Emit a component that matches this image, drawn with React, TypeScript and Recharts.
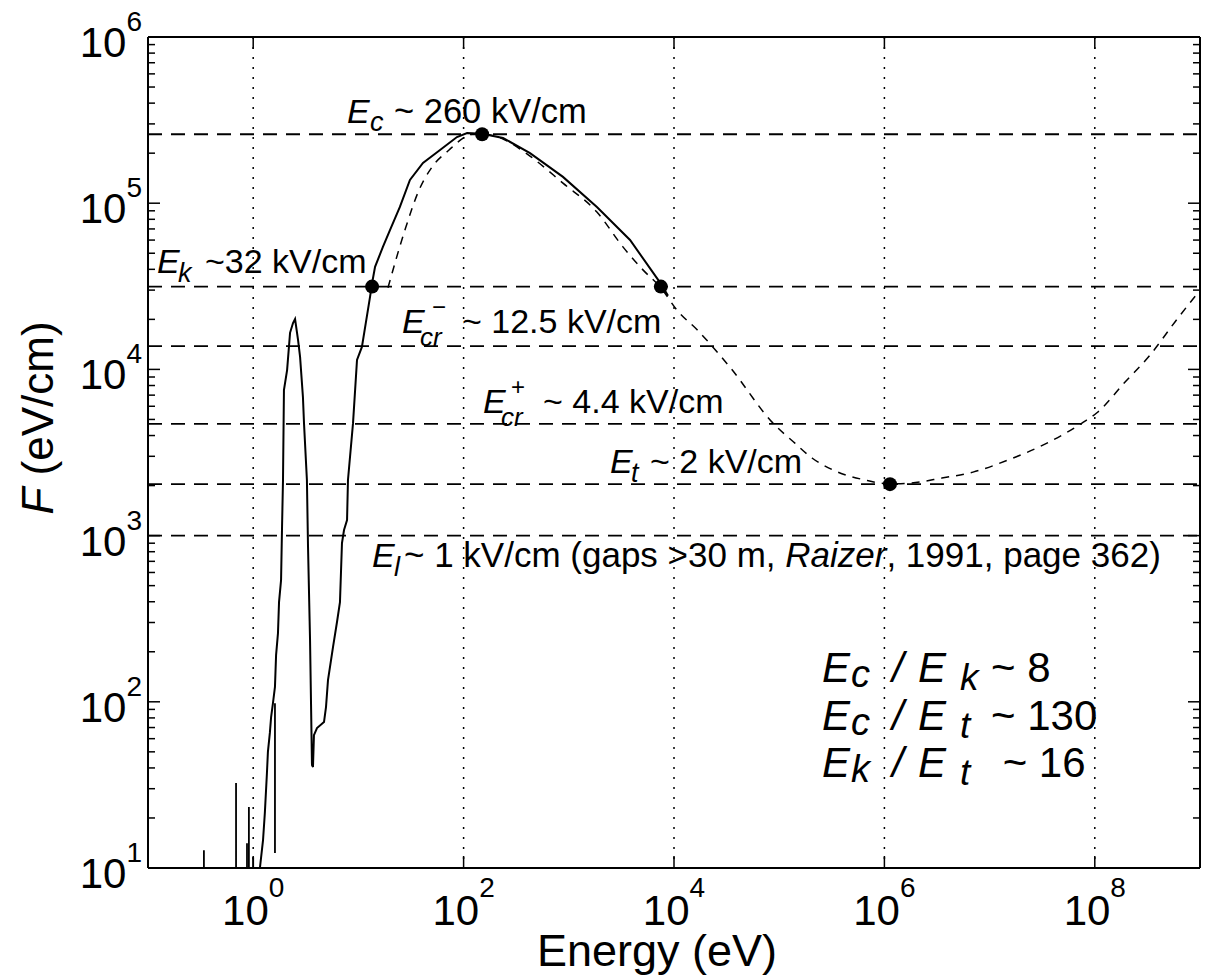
import {
  CartesianGrid,
  ComposedChart,
  Line,
  ReferenceLine,
  Scatter,
  XAxis,
  YAxis,
} from 'recharts'

const FONT = '"Liberation Sans", Arial, Helvetica, sans-serif'
const INK = '#000'

// solid curve: [energy eV, F eV/cm]
const solidCurve: [number, number][] = [
  [1.13, 8.5], [1.16, 10.1], [1.24, 14.7], [1.29, 21.4], [1.35, 37], [1.38, 50],
  [1.44, 65], [1.48, 81], [1.54, 98], [1.61, 123], [1.65, 191], [1.72, 259],
  [1.76, 398], [1.84, 540], [1.88, 1130], [1.92, 2160], [1.96, 7520], [2.1, 9910],
  [2.24, 16600], [2.39, 19000], [2.5, 20100], [2.67, 15000], [2.79, 11900],
  [2.97, 6820], [3.04, 4750], [3.24, 2160], [3.32, 853], [3.47, 235], [3.62, 41.7],
  [3.7, 40.5], [3.78, 63], [4.04, 69.5], [4.71, 75.5], [4.92, 93], [5.14, 135],
  [5.74, 214], [6.26, 302], [6.68, 398], [6.98, 902], [7.3, 1080], [7.8, 1240],
  [7.96, 2160], [8.89, 4750], [9.7, 11400], [10.8, 13650], [12.9, 27300],
  [13.5, 33100], [14.4, 41400], [17.1, 54600], [20, 69000], [24.8, 95000],
  [30.9, 138000], [41.1, 174600], [59.7, 209000], [86.5, 250000], [108, 264000],
  [150, 262000], [237, 247000], [428, 200000], [880, 144000], [1850, 94800],
  [3820, 60100], [7520, 32700], [8770, 27700],
]

// dashed curve
const dashedCurve: [number, number][] = [
  [19.1, 31000], [27.7, 69000], [37.7, 120000], [50.1, 165000], [72.7, 209000],
  [103, 250000], [128, 262000], [175, 258000], [237, 243000], [428, 192000],
  [880, 132000], [1850, 88500], [3270, 54600], [5070, 39700], [7520, 30900],
  [10700, 22700], [16600, 17300], [34100, 10300], [87300, 4750], [141000, 3600],
  [205000, 2930], [325000, 2480], [655000, 2160], [1.13e6, 2045], [1.79e6, 2070],
  [3.52e6, 2220], [6.95e6, 2410], [1.5e7, 2850], [3.51e7, 3600], [7.55e7, 4750],
  [1.07e8, 5540], [1.94e8, 8400], [3.35e8, 12200], [5.78e8, 19300], [1e9, 30000],
]

// short vertical spikes at low energy
const spikeSegments: [number, number][][] = [
  [[0.34, 8], [0.34, 12.8]],
  [[0.687, 8], [0.687, 32.5]],
  [[0.873, 8], [0.873, 14.1]],
  [[0.91, 8], [0.91, 23.3]],
  [[1.0, 8], [1.0, 11.6]],
  [[1.61, 12.3], [1.61, 98]],
]

const fieldMarkers: [number, number][] = [
  [13.5, 31500], [150, 260000], [7500, 31500], [1.13e6, 2040],
]

const fieldLevels = [260000, 31500, 13800, 4700, 2040, 1000]

const xMajorTicks = [1, 1e2, 1e4, 1e6, 1e8]
const yMajorTicks = [1e1, 1e2, 1e3, 1e4, 1e5, 1e6]
const minorSteps = [2, 3, 4, 5, 6, 7, 8, 9]

const ratioRows = [
  { a: 'c', b: 'k', val: '~ 8' },
  { a: 'c', b: 't', val: '~ 130' },
  { a: 'k', b: 't', val: ' ~ 16' },
]

const yAllTicks = yMajorTicks.flatMap((d, i) =>
  i === yMajorTicks.length - 1 ? [d] : [d, ...minorSteps.map((k) => k * d)],
)

const toPts = (arr: [number, number][]) => arr.map(([e, f]) => ({ e, f }))
const solidData = toPts(solidCurve)
const dashedData = toPts(dashedCurve)
const spikeData = spikeSegments.flatMap((seg) => [
  ...toPts(seg),
  { e: seg[0][0], f: null as number | null },
])
const markerData = toPts(fieldMarkers)

const exp10 = (v: number) => String(Math.round(Math.log10(v)))

function LeftTick(props: any) {
  const { x, y, payload } = props
  const major = yMajorTicks.includes(payload.value)
  return (
    <g>
      <line x1={x} x2={x + (major ? 12 : 7)} y1={y} y2={y} stroke={INK} strokeWidth={1.5} />
      {major && (
        <text x={x - 6} y={y + 20} textAnchor="end" fontFamily={FONT} fontSize={42} fill={INK}>
          10
          <tspan dy={-26} fontSize={28}>
            {exp10(payload.value)}
          </tspan>
        </text>
      )}
    </g>
  )
}

function RightTick(props: any) {
  const { x, y, payload } = props
  const major = yMajorTicks.includes(payload.value)
  return <line x1={x} x2={x - (major ? 12 : 7)} y1={y} y2={y} stroke={INK} strokeWidth={1.5} />
}

function BottomTick(props: any) {
  const { x, y, payload } = props
  return (
    <g>
      <line x1={x} x2={x} y1={y} y2={y - 12} stroke={INK} strokeWidth={1.5} />
      <text x={x} y={y + 57} textAnchor="middle" fontFamily={FONT} fontSize={42} fill={INK}>
        10
        <tspan dy={-28} fontSize={28}>
          {exp10(payload.value)}
        </tspan>
      </text>
    </g>
  )
}

function TopTick(props: any) {
  const { x, y } = props
  return <line x1={x} x2={x} y1={y} y2={y + 12} stroke={INK} strokeWidth={1.5} />
}

function T({ x, y, size = 34, italic = false, children }: any) {
  return (
    <text x={x} y={y} fontSize={size} fontStyle={italic ? 'italic' : 'normal'} fontFamily={FONT} fill={INK}>
      {children}
    </text>
  )
}

/** Annotation layer: field labels and ratios. */
function Annotations() {
  return (
    <svg width={1207} height={977} style={{ position: 'absolute', left: 0, top: 0, pointerEvents: 'none' }}>
      <T x={347} y={123} italic>E</T>
      <T x={370} y={131} size={27} italic>c</T>
      <T x={394} y={123} size={34.5}>~ 260 kV/cm</T>

      <T x={157} y={273} italic>E</T>
      <T x={178} y={282} size={27} italic>k</T>
      <T x={205} y={273}>~32 kV/cm</T>

      <T x={402} y={333} italic>E</T>
      <T x={420} y={346} size={26} italic>cr</T>
      <T x={432} y={315} size={24}>−</T>
      <T x={462} y={333}>~ 12.5 kV/cm</T>

      <T x={483} y={413} italic>E</T>
      <T x={501} y={426} size={26} italic>cr</T>
      <T x={511} y={395} size={24}>+</T>
      <T x={543} y={413}>~ 4.4 kV/cm</T>

      <T x={610} y={473} italic>E</T>
      <T x={631} y={482} size={27} italic>t</T>
      <T x={650} y={473}>~ 2 kV/cm</T>

      <T x={372} y={567} italic>E</T>
      <T x={394} y={576} size={27} italic>l</T>
      <text x={404} y={567} fontSize={35} fontFamily={FONT} fill={INK}>
        ~ 1 kV/cm (gaps &gt;30 m, <tspan fontStyle="italic">Raizer</tspan>, 1991, page 362)
      </text>

      {ratioRows.map((r, i) => {
        const yy = 682 + i * 47.5
        return (
          <g key={i}>
            <T x={822} y={yy} size={42} italic>E</T>
            <T x={851} y={yy + 5} size={38} italic>{r.a}</T>
            <T x={892} y={yy} size={42} italic>/</T>
            <T x={918} y={yy} size={42} italic>E</T>
            <T x={960} y={yy + 8} size={37} italic>{r.b}</T>
            <text x={991} y={yy} fontSize={42} fontFamily={FONT} fill={INK} xmlSpace="preserve">
              {r.val}
            </text>
          </g>
        )
      })}

      <text x={657} y={966} textAnchor="middle" fontSize={45} fontFamily={FONT} fill={INK}>
        Energy (eV)
      </text>
      <text
        x={53}
        y={418}
        transform="rotate(-90 53 418)"
        textAnchor="middle"
        fontSize={44}
        fontFamily={FONT}
        fill={INK}
      >
        <tspan fontStyle="italic">F</tspan> (eV/cm)
      </text>
    </svg>
  )
}

export default function App() {
  return (
    <div style={{ position: 'absolute', left: 0, top: 0, width: 1207, height: 977, background: '#fff' }}>
      <ComposedChart width={1207} height={977} margin={{ top: 32, right: 2, bottom: 49, left: 48 }}>
        <CartesianGrid horizontal={false} stroke={INK} strokeWidth={1.5} strokeDasharray="2 8" />
        <XAxis
          dataKey="e"
          type="number"
          scale="log"
          domain={[0.1, 1e9]}
          allowDataOverflow
          ticks={xMajorTicks}
          interval={0}
          height={60}
          tickSize={0}
          tickMargin={0}
          tickLine={false}
          axisLine={{ stroke: INK, strokeWidth: 2 }}
          tick={(p: any) => <BottomTick {...p} />}
        />
        <XAxis
          xAxisId="t"
          orientation="top"
          dataKey="e"
          type="number"
          scale="log"
          domain={[0.1, 1e9]}
          allowDataOverflow
          ticks={xMajorTicks}
          interval={0}
          height={5}
          tickSize={0}
          tickMargin={0}
          tickLine={false}
          axisLine={{ stroke: INK, strokeWidth: 2 }}
          tick={(p: any) => <TopTick {...p} />}
        />
        <YAxis
          dataKey="f"
          type="number"
          scale="log"
          domain={[10, 1e6]}
          allowDataOverflow
          ticks={yAllTicks}
          interval={0}
          width={100}
          tickSize={0}
          tickMargin={0}
          tickLine={false}
          axisLine={{ stroke: INK, strokeWidth: 2 }}
          tick={(p: any) => <LeftTick {...p} />}
        />
        <YAxis
          yAxisId="r"
          orientation="right"
          dataKey="f"
          type="number"
          scale="log"
          domain={[10, 1e6]}
          allowDataOverflow
          ticks={yAllTicks}
          interval={0}
          width={5}
          tickSize={0}
          tickMargin={0}
          tickLine={false}
          axisLine={{ stroke: INK, strokeWidth: 2 }}
          tick={(p: any) => <RightTick {...p} />}
        />
        {fieldLevels.map((v) => (
          <ReferenceLine key={v} y={v} stroke={INK} strokeWidth={1.8} strokeDasharray="14 9" />
        ))}
        <Line
          data={spikeData}
          dataKey="f"
          type="linear"
          stroke={INK}
          strokeWidth={1.8}
          dot={false}
          connectNulls={false}
          isAnimationActive={false}
        />
        <Line
          data={dashedData}
          dataKey="f"
          type="monotone"
          stroke={INK}
          strokeWidth={1.5}
          strokeDasharray="8 7"
          dot={false}
          isAnimationActive={false}
        />
        <Line
          data={solidData}
          dataKey="f"
          type="linear"
          stroke={INK}
          strokeWidth={2}
          dot={false}
          isAnimationActive={false}
        />
        <Scatter
          data={markerData}
          dataKey="f"
          isAnimationActive={false}
          shape={(p: any) => <circle cx={p.cx} cy={p.cy} r={7} fill={INK} />}
        />
      </ComposedChart>
      <Annotations />
    </div>
  )
}
